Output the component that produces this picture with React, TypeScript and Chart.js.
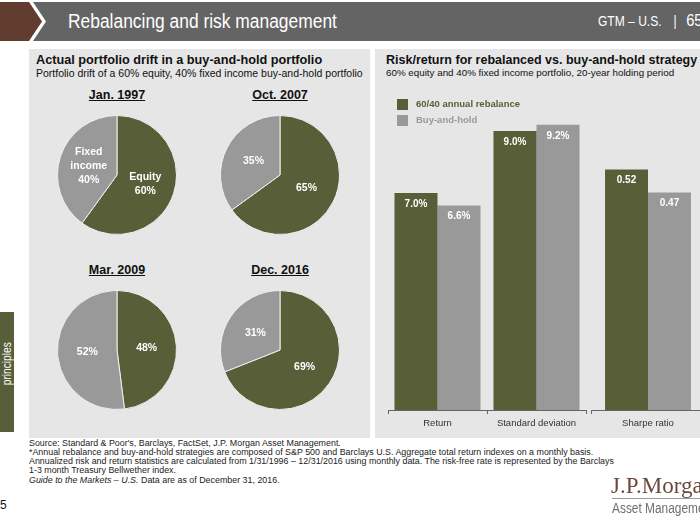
import React, { useEffect, useRef } from "react";
import { Chart, registerables } from "chart.js";

Chart.register(...registerables);

// ---------- data ----------
const pieTitles = ["Jan. 1997", "Oct. 2007", "Mar. 2009", "Dec. 2016"];
const equityShares = [60, 65, 48, 69];
const fixedIncomeShares = [40, 35, 52, 31];
const sliceNames = ["Equity", "Fixed income"];

const seriesNames = ["60/40 annual rebalance", "Buy-and-hold"];
const pctCategories = ["Return", "Standard deviation"];
const rebalancePct = [7.0, 9.0];
const buyHoldPct = [6.6, 9.2];
const ratioCategories = ["Sharpe ratio"];
const rebalanceSharpe = [0.52];
const buyHoldSharpe = [0.47];

// ---------- style ----------
const GREEN = "#585e38";
const GRAY = "#999999";
const PANEL = "#e6e6e6";
const SANS = "'Liberation Sans', Arial, sans-serif";

const pieBoxes = [
  { left: 57, top: 115 },
  { left: 220, top: 115 },
  { left: 57, top: 290 },
  { left: 220, top: 290 },
];
const PIE_SIZE = 120;

const pieLabelPlugin = (withNames: boolean) => ({
  id: "pieLabels",
  afterDatasetsDraw(chart: any) {
    const ctx = chart.ctx;
    const meta = chart.getDatasetMeta(0);
    const data = chart.data.datasets[0].data;
    ctx.save();
    ctx.fillStyle = "#ffffff";
    ctx.textAlign = "center";
    ctx.textBaseline = "middle";
    ctx.font = `bold 10.5px ${SANS}`;
    meta.data.forEach((arc: any, j: number) => {
      const p = arc.tooltipPosition(false);
      const lines = withNames
        ? [...String(chart.data.labels[j]).split(" "), `${data[j]}%`]
        : [`${data[j]}%`];
      const lh = 14;
      const y0 = p.y - ((lines.length - 1) * lh) / 2;
      lines.forEach((t: string, k: number) => ctx.fillText(t, p.x, y0 + k * lh));
    });
    ctx.restore();
  },
});

function PieChart({ index }: { index: number }) {
  const ref = useRef<HTMLCanvasElement>(null);
  useEffect(() => {
    const chart = new Chart(ref.current as HTMLCanvasElement, {
      type: "pie",
      data: {
        labels: sliceNames,
        datasets: [
          {
            data: [equityShares[index], fixedIncomeShares[index]],
            backgroundColor: [GREEN, GRAY],
            borderColor: "#eeeeee",
            borderWidth: 1,
          },
        ],
      },
      options: {
        responsive: false,
        animation: false,
        events: [],
        layout: { padding: 0 },
        plugins: { legend: { display: false }, tooltip: { enabled: false } },
      },
      plugins: [pieLabelPlugin(index === 0)],
    } as any);
    return () => chart.destroy();
  }, [index]);
  const box = pieBoxes[index];
  return (
    <>
      <div
        style={{
          position: "absolute",
          left: box.left + PIE_SIZE / 2 - 60,
          width: 120,
          top: box.top - 27,
          textAlign: "center",
          font: `bold 12.5px ${SANS}`,
          textDecoration: "underline",
          color: "#111",
          lineHeight: "14px",
        }}
      >
        {pieTitles[index]}
      </div>
      <canvas
        ref={ref}
        width={PIE_SIZE}
        height={PIE_SIZE}
        style={{ position: "absolute", left: box.left, top: box.top, width: PIE_SIZE, height: PIE_SIZE }}
      />
    </>
  );
}

const barValuePlugin = (fmt: (v: number) => string) => ({
  id: "barValues",
  afterDatasetsDraw(chart: any) {
    const ctx = chart.ctx;
    ctx.save();
    ctx.fillStyle = "#ffffff";
    ctx.font = `bold 10px ${SANS}`;
    ctx.textAlign = "center";
    ctx.textBaseline = "middle";
    chart.data.datasets.forEach((ds: any, i: number) => {
      chart.getDatasetMeta(i).data.forEach((bar: any, j: number) => {
        ctx.fillText(fmt(ds.data[j]), bar.x, bar.y + 11);
      });
    });
    ctx.restore();
  },
});

const boxLegendPlugin = {
  id: "boxLegend",
  afterDraw(chart: any) {
    const ctx = chart.ctx;
    const x = chart.chartArea.left + 9;
    let y = chart.chartArea.top - 1;
    ctx.save();
    chart.data.datasets.forEach((ds: any) => {
      ctx.fillStyle = ds.backgroundColor;
      ctx.fillRect(x, y, 11, 11);
      ctx.font = `bold 9.5px ${SANS}`;
      ctx.textBaseline = "middle";
      ctx.textAlign = "left";
      ctx.fillText(ds.label, x + 19, y + 5.5);
      y += 16;
    });
    ctx.restore();
  },
};

function makeBarOptions(max: number, padL: number, padR: number, catPct: number) {
  return {
    responsive: false,
    animation: false,
    events: [],
    layout: { padding: { left: padL, right: padR, top: 15, bottom: 0 } },
    datasets: { bar: { categoryPercentage: catPct, barPercentage: 1, borderWidth: 0 } },
    scales: {
      x: {
        grid: { display: true, drawOnChartArea: false, drawTicks: true, tickLength: 4, color: "#666", offset: true },
        border: { display: true, color: "#666", width: 1 },
        ticks: { color: "#333", font: { family: SANS, size: 9.5 }, padding: 4, maxRotation: 0, autoSkip: false },
        afterFit: (s: any) => {
          s.height = 25;
        },
      },
      y: { display: false, min: 0, max },
    },
    plugins: { legend: { display: false }, tooltip: { enabled: false } },
  };
}

function BarCharts() {
  const refA = useRef<HTMLCanvasElement>(null);
  const refB = useRef<HTMLCanvasElement>(null);
  useEffect(() => {
    const a = new Chart(refA.current as HTMLCanvasElement, {
      type: "bar",
      data: {
        labels: pctCategories,
        datasets: [
          { label: seriesNames[0], data: rebalancePct, backgroundColor: GREEN },
          { label: seriesNames[1], data: buyHoldPct, backgroundColor: GRAY },
        ],
      },
      options: makeBarOptions(10, 12, 12, 0.869),
      plugins: [barValuePlugin((v) => `${v.toFixed(1)}%`), boxLegendPlugin],
    } as any);
    const b = new Chart(refB.current as HTMLCanvasElement, {
      type: "bar",
      data: {
        labels: ratioCategories,
        datasets: [
          { label: seriesNames[0], data: rebalanceSharpe, backgroundColor: GREEN },
          { label: seriesNames[1], data: buyHoldSharpe, backgroundColor: GRAY },
        ],
      },
      options: makeBarOptions(0.67, 5, 5, 0.754),
      plugins: [barValuePlugin((v) => v.toFixed(2))],
    } as any);
    return () => {
      a.destroy();
      b.destroy();
    };
  }, []);
  return (
    <>
      <canvas ref={refA} width={222} height={350} style={{ position: "absolute", left: 376, top: 85, width: 222, height: 350 }} />
      <canvas ref={refB} width={124} height={350} style={{ position: "absolute", left: 586, top: 85, width: 124, height: 350 }} />
    </>
  );
}

const abs = (s: React.CSSProperties): React.CSSProperties => ({ position: "absolute", whiteSpace: "nowrap", ...s });
const narrow = (sx: number): React.CSSProperties => ({ transform: `scaleX(${sx})`, transformOrigin: "0 50%" });

export default function App() {
  return (
    <div
      style={{
        position: "absolute",
        left: 0,
        top: 0,
        width: 700,
        height: 525,
        overflow: "hidden",
        background: "#ffffff",
        fontFamily: SANS,
      }}
    >
      {/* header */}
      <svg width={700} height={42} style={{ position: "absolute", left: 0, top: 0 }}>
        <polygon points="33,2 700,2 700,41 33,41 46,21.5" fill="#646464" />
        <polygon points="0,2 29,2 42,21.5 29,41 0,41" fill="#5f3c2d" />
      </svg>
      <div style={abs({ left: 68, top: 8, font: `20px ${SANS}`, color: "#ffffff", lineHeight: "26px", ...narrow(0.87) })}>
        Rebalancing and risk management
      </div>
      <div style={abs({ left: 598, top: 11, font: `14px ${SANS}`, color: "#ffffff", lineHeight: "20px", ...narrow(0.86) })}>
        GTM – U.S.
        <span style={{ display: "inline-block", margin: "0 11px 0 14px" }}>|</span>
        <span style={{ fontSize: 17 }}>65</span>
      </div>

      {/* panels */}
      <div style={abs({ left: 29, top: 49, width: 341, height: 389, background: PANEL })} />
      <div style={abs({ left: 375, top: 49, width: 330, height: 389, background: PANEL })} />

      <div style={abs({ left: 36, top: 52, font: `bold 12.7px ${SANS}`, color: "#111", lineHeight: "16px" })}>
        Actual portfolio drift in a buy-and-hold portfolio
      </div>
      <div style={abs({ left: 36, top: 67, font: `10.5px ${SANS}`, color: "#111", lineHeight: "12px" })}>
        Portfolio drift of a 60% equity, 40% fixed income buy-and-hold portfolio
      </div>
      <div style={abs({ left: 386, top: 52, font: `bold 12.5px ${SANS}`, color: "#111", lineHeight: "16px" })}>
        Risk/return for rebalanced vs. buy-and-hold strategy
      </div>
      <div style={abs({ left: 386, top: 67, font: `9.8px ${SANS}`, color: "#111", lineHeight: "12px" })}>
        60% equity and 40% fixed income portfolio, 20-year holding period
      </div>

      {pieTitles.map((_, i) => (
        <PieChart key={i} index={i} />
      ))}
      <BarCharts />

      {/* side tab */}
      <div style={abs({ left: 0, top: 312, width: 14, height: 120, background: GREEN, overflow: "hidden" })}>
        <div
          style={abs({
            left: 0,
            top: 24,
            width: 14,
            height: 56,
            writingMode: "vertical-rl",
            transform: "rotate(180deg) scaleY(0.85)",
            font: `12px ${SANS}`,
            color: "#ffffff",
            lineHeight: "14px",
            textAlign: "center",
          })}
        >
          principles
        </div>
      </div>

      {/* footnotes */}
      <div style={abs({ left: 29, top: 439, font: `8.9px ${SANS}`, color: "#222", lineHeight: "9px" })}>
        <div>Source: Standard &amp; Poor's, Barclays, FactSet, J.P. Morgan Asset Management.</div>
        <div>
          *Annual rebalance and buy-and-hold strategies are composed of S&amp;P 500 and Barclays U.S. Aggregate total return
          indexes on a monthly basis.
        </div>
        <div>
          Annualized risk and return statistics are calculated from 1/31/1996 – 12/31/2016 using monthly data. The risk-free
          rate is represented by the Barclays
        </div>
        <div>1-3 month Treasury Bellwether index.</div>
        <div style={{ marginTop: 1 }}>
          <i>Guide to the Markets – U.S.</i> Data are as of December 31, 2016.
        </div>
      </div>
      <div style={abs({ left: 0, top: 498, font: `12px ${SANS}`, color: "#111", lineHeight: "14px" })}>5</div>

      {/* logo */}
      <div style={abs({ left: 611, top: 473, font: `23px 'Liberation Serif', serif`, color: "#6a4a3a", lineHeight: "26px" })}>
        J.P.Morgan
      </div>
      <div style={abs({ left: 612, top: 498, width: 100, height: 1, background: "#9a9a9a" })} />
      <div style={abs({ left: 612, top: 500, font: `14px ${SANS}`, color: "#6f6f6f", lineHeight: "16px", ...narrow(0.85) })}>
        Asset Management
      </div>
    </div>
  );
}
